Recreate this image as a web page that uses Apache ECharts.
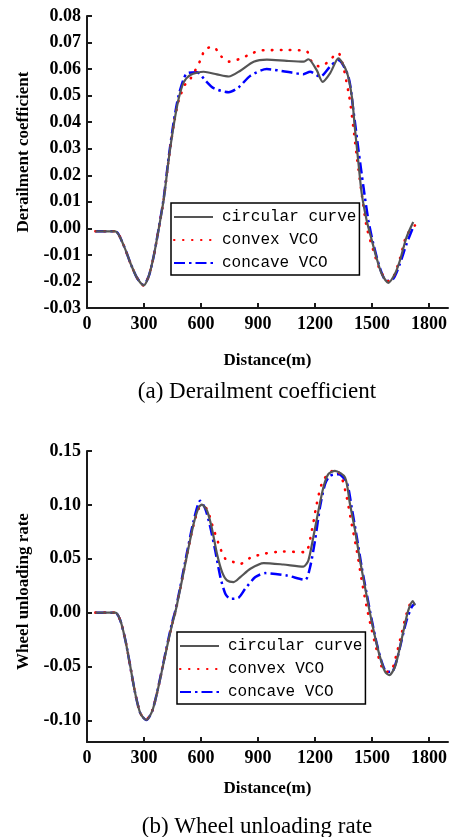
<!DOCTYPE html>
<html>
<head>
<meta charset="utf-8">
<style>
  html, body { margin: 0; padding: 0; background: #fff; }
  #chart { width: 450px; height: 837px; }
</style>
<script src="https://cdn.jsdelivr.net/npm/echarts@6/dist/echarts.min.js"></script>
</head>
<body>
<div id="chart"></div>
<script>
// Shared axis ticks
const distanceTicks = [0, 300, 600, 900, 1200, 1500, 1800];
const derailTicks = [-0.03, -0.02, -0.01, 0.00, 0.01, 0.02, 0.03, 0.04, 0.05, 0.06, 0.07, 0.08];
const unloadTicks = [-0.10, -0.05, 0.00, 0.05, 0.10, 0.15];
const seriesNames = ['circular curve', 'convex VCO', 'concave VCO'];

// (a) Derailment coefficient
const derailCircularX = [44, 149, 193, 228, 263, 298, 325, 351, 377, 404, 430, 456, 482, 509, 544, 614, 684, 746, 807, 877, 947, 1051, 1139, 1165, 1209, 1240, 1279, 1323, 1367, 1394, 1411, 1429, 1446, 1472, 1499, 1525, 1551, 1586, 1621, 1647, 1682, 1717];
const derailCircularY = [-0.0011, -0.0011, -0.0064, -0.0130, -0.0186, -0.0215, -0.0180, -0.0105, -0.0004, 0.0110, 0.0260, 0.0387, 0.0487, 0.0550, 0.0578, 0.0590, 0.0580, 0.0572, 0.0594, 0.0628, 0.0636, 0.0631, 0.0628, 0.0637, 0.0596, 0.0552, 0.0584, 0.0640, 0.0590, 0.0496, 0.0370, 0.0244, 0.0131, 0.0030, -0.0045, -0.0114, -0.0171, -0.0205, -0.0171, -0.0121, -0.0033, 0.0024];

const derailConvexX = [44, 149, 193, 228, 263, 298, 325, 351, 377, 404, 430, 456, 482, 518, 544, 596, 623, 667, 702, 746, 807, 860, 912, 946, 1051, 1156, 1183, 1227, 1270, 1305, 1323, 1376, 1402, 1420, 1446, 1472, 1507, 1543, 1586, 1612, 1647, 1682, 1726];
const derailConvexY = [-0.0011, -0.0011, -0.0064, -0.0130, -0.0186, -0.0215, -0.0180, -0.0105, -0.0004, 0.0110, 0.0260, 0.0387, 0.0480, 0.0544, 0.0563, 0.0632, 0.0676, 0.0683, 0.0651, 0.0628, 0.0639, 0.0657, 0.0670, 0.0671, 0.0672, 0.0667, 0.0628, 0.0609, 0.0628, 0.0653, 0.0660, 0.0514, 0.0380, 0.0270, 0.0130, 0.0005, -0.0083, -0.0158, -0.0199, -0.0184, -0.0114, -0.0026, 0.0011];

const derailConcaveX = [44, 149, 193, 228, 263, 298, 325, 351, 377, 404, 430, 456, 482, 509, 526, 579, 623, 667, 746, 798, 860, 946, 1051, 1139, 1174, 1227, 1279, 1323, 1376, 1402, 1429, 1455, 1481, 1507, 1543, 1577, 1612, 1647, 1682, 1717];
const derailConcaveY = [-0.0011, -0.0011, -0.0064, -0.0130, -0.0186, -0.0213, -0.0180, -0.0105, -0.0002, 0.0115, 0.0268, 0.0400, 0.0500, 0.0563, 0.0584, 0.0588, 0.0557, 0.0528, 0.0513, 0.0531, 0.0575, 0.0600, 0.0590, 0.0581, 0.0590, 0.0571, 0.0609, 0.0634, 0.0571, 0.0445, 0.0294, 0.0156, 0.0030, -0.0058, -0.0152, -0.0199, -0.0190, -0.0133, -0.0058, 0.0005];

// (b) Wheel unloading rate
const unloadCircularX = [44, 149, 175, 202, 228, 254, 281, 312, 342, 368, 395, 421, 447, 465, 491, 526, 561, 588, 605, 632, 658, 684, 711, 737, 772, 807, 860, 930, 1033, 1139, 1165, 1191, 1218, 1244, 1270, 1305, 1358, 1384, 1411, 1437, 1463, 1490, 1516, 1542, 1569, 1591, 1621, 1647, 1674, 1691, 1714, 1726];
const unloadCircularY = [0.0000, 0.0000, -0.0070, -0.0256, -0.0500, -0.0750, -0.0934, -0.0996, -0.0919, -0.0750, -0.0533, -0.0318, -0.0117, 0.0006, 0.0222, 0.0530, 0.0823, 0.0977, 0.1002, 0.0946, 0.0777, 0.0546, 0.0376, 0.0299, 0.0284, 0.0330, 0.0407, 0.0460, 0.0447, 0.0428, 0.0484, 0.0700, 0.0946, 0.1162, 0.1285, 0.1316, 0.1255, 0.1008, 0.0761, 0.0484, 0.0237, -0.0009, -0.0225, -0.0410, -0.0549, -0.0580, -0.0502, -0.0318, -0.0102, 0.0022, 0.0108, 0.0068];

const unloadConvexX = [44, 149, 175, 202, 228, 254, 281, 312, 342, 368, 395, 421, 447, 465, 491, 526, 561, 588, 605, 632, 658, 693, 728, 772, 807, 860, 930, 1033, 1148, 1183, 1209, 1235, 1270, 1309, 1340, 1367, 1393, 1420, 1446, 1472, 1499, 1525, 1551, 1577, 1604, 1630, 1656, 1682, 1709, 1726];
const unloadConvexY = [0.0000, 0.0000, -0.0070, -0.0256, -0.0500, -0.0750, -0.0934, -0.0990, -0.0915, -0.0750, -0.0533, -0.0318, -0.0117, 0.0006, 0.0222, 0.0530, 0.0815, 0.0965, 0.0990, 0.0960, 0.0820, 0.0638, 0.0500, 0.0469, 0.0453, 0.0509, 0.0546, 0.0567, 0.0561, 0.0761, 0.1008, 0.1193, 0.1292, 0.1326, 0.1255, 0.1070, 0.0823, 0.0576, 0.0299, 0.0052, -0.0163, -0.0348, -0.0502, -0.0549, -0.0533, -0.0379, -0.0194, -0.0009, 0.0099, 0.0077];

const unloadConcaveX = [44, 149, 175, 202, 228, 254, 281, 312, 342, 368, 395, 421, 447, 465, 491, 526, 561, 596, 623, 649, 675, 702, 728, 754, 798, 833, 886, 939, 1051, 1148, 1174, 1200, 1226, 1253, 1279, 1323, 1367, 1393, 1420, 1446, 1472, 1499, 1525, 1551, 1577, 1604, 1630, 1656, 1682, 1709, 1726];
const unloadConcaveY = [0.0000, 0.0000, -0.0070, -0.0256, -0.0500, -0.0750, -0.0934, -0.0996, -0.0919, -0.0745, -0.0525, -0.0305, -0.0100, 0.0020, 0.0240, 0.0555, 0.0850, 0.1039, 0.0962, 0.0792, 0.0576, 0.0330, 0.0176, 0.0129, 0.0139, 0.0222, 0.0330, 0.0367, 0.0345, 0.0305, 0.0422, 0.0669, 0.0977, 0.1193, 0.1270, 0.1285, 0.1208, 0.0977, 0.0700, 0.0422, 0.0176, -0.0071, -0.0287, -0.0456, -0.0549, -0.0549, -0.0441, -0.0256, -0.0071, 0.0052, 0.0089];

const pairs = (xs, ys) => xs.map((x, i) => [x, ys[i]]);

const serifBold = { fontFamily: 'Liberation Serif', fontWeight: 'bold', color: '#000' };
const axisLineStyle = { color: '#1a1a1a', width: 2 };

function xAxisFor(gridIndex, gap) {
  return {
    type: 'value', gridIndex, min: 0, max: 1900,
    name: 'Distance(m)', nameLocation: 'middle', nameGap: gap,
    nameTextStyle: Object.assign({ fontSize: 17 }, serifBold),
    axisLine: { show: true, onZero: false, lineStyle: axisLineStyle },
    axisTick: { show: true, inside: true, length: 5, lineStyle: axisLineStyle, customValues: distanceTicks },
    axisLabel: Object.assign({ fontSize: 18, margin: 7, customValues: distanceTicks, formatter: v => String(v) }, serifBold),
    splitLine: { show: false }
  };
}

function yAxisFor(gridIndex, name, min, max, ticks, digits, gap, shift) {
  return {
    type: 'value', gridIndex, min, max,
    name, nameLocation: 'middle', nameGap: gap, nameRotate: 90,
    nameTextStyle: Object.assign({ fontSize: 17, padding: [0, 0, 0, shift] }, serifBold),
    axisLine: { show: true, onZero: false, lineStyle: axisLineStyle },
    axisTick: { show: true, inside: true, length: 5, lineStyle: axisLineStyle, customValues: ticks },
    axisLabel: Object.assign({
      fontSize: 18, margin: 6, customValues: ticks,
      formatter: v => v.toFixed(digits)
    }, serifBold),
    splitLine: { show: false }
  };
}

const styles = [
  { color: '#555555', lineStyle: { color: '#555555', width: 2.2, type: 'solid' } },
  { color: '#ff0000', lineStyle: { color: '#ff0000', width: 2.6, type: [0.5, 8.5], cap: 'round' } },
  { color: '#0000ff', lineStyle: { color: '#0000ff', width: 2.5, type: [11, 4, 2.5, 4] } }
];

function lineSeries(idx, xAxisIndex, data) {
  return {
    name: seriesNames[idx], type: 'line', xAxisIndex, yAxisIndex: xAxisIndex,
    data, symbol: 'none', smooth: 0.25, animation: false,
    itemStyle: { color: styles[idx].color },
    lineStyle: styles[idx].lineStyle,
    z: 3 - idx
  };
}

function legendFor(left, top) {
  return {
    orient: 'vertical', left, top,
    data: seriesNames.map(n => ({ name: n })),
    itemWidth: 39, itemHeight: 14, itemGap: 7,
    padding: [6, 3, 4, 2],
    borderColor: '#000', borderWidth: 1.5,
    backgroundColor: '#fff',
    itemStyle: { opacity: 0 },
    textStyle: { fontFamily: 'Liberation Mono', fontSize: 16, color: '#000', padding: [0, 0, 0, 4] },
    selectedMode: false
  };
}

const chart = echarts.init(document.getElementById('chart'), null, { renderer: 'canvas' });
chart.setOption({
  animation: false,
  backgroundColor: '#fff',
  grid: [
    { left: 87, right: 2, top: 16, bottom: 529 },
    { left: 87, right: 2, top: 451, bottom: 95 }
  ],
  xAxis: [xAxisFor(0, 44), xAxisFor(1, 38)],
  yAxis: [
    yAxisFor(0, 'Derailment coefficient', -0.03, 0.08, derailTicks, 2, 48, 20),
    yAxisFor(1, 'Wheel unloading rate', -0.12, 0.15, unloadTicks, 2, 52, 10)
  ],
  legend: [legendFor(171, 203), legendFor(177, 632)],
  series: [
    lineSeries(0, 0, pairs(derailCircularX, derailCircularY)),
    lineSeries(1, 0, pairs(derailConvexX, derailConvexY)),
    lineSeries(2, 0, pairs(derailConcaveX, derailConcaveY)),
    lineSeries(0, 1, pairs(unloadCircularX, unloadCircularY)),
    lineSeries(1, 1, pairs(unloadConvexX, unloadConvexY)),
    lineSeries(2, 1, pairs(unloadConcaveX, unloadConcaveY))
  ],
  graphic: [
    { type: 'text', x: 257, y: 392, style: { text: '(a) Derailment coefficient', font: '23px "Liberation Serif"', fill: '#000', textAlign: 'center', textVerticalAlign: 'middle' } },
    { type: 'text', x: 257, y: 827, style: { text: '(b) Wheel unloading rate', font: '23px "Liberation Serif"', fill: '#000', textAlign: 'center', textVerticalAlign: 'middle' } }
  ]
});
</script>
</body>
</html>
